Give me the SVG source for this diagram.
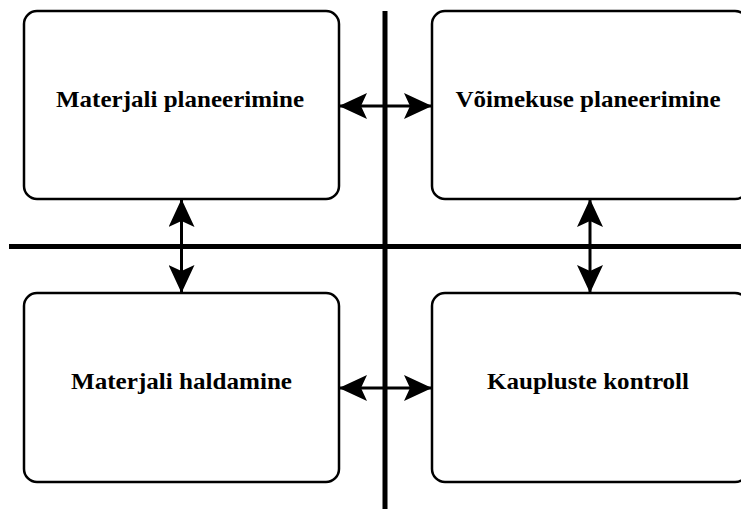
<svg xmlns="http://www.w3.org/2000/svg" width="741" height="509" viewBox="0 0 741 509">
<style>
.box{fill:#fff;stroke:#000;stroke-width:2.5}
.lbl{font-family:"Liberation Serif","Times New Roman",serif;font-weight:bold;font-size:24px;fill:#000;text-anchor:middle}
.axis{stroke:#000;stroke-width:5;fill:none}
.con{stroke:#000;stroke-width:3;fill:none}
</style>
<defs>
<marker id="ah" viewBox="0 0 28 26" refX="27" refY="13" markerWidth="28" markerHeight="26" markerUnits="userSpaceOnUse" orient="auto-start-reverse">
<path d="M0,0 L28,13 L0,26 L6,13 Z" fill="#000"/>
</marker>
</defs>
<g id="axes">
<line class="axis" x1="385" y1="11" x2="385" y2="509"/>
<line class="axis" x1="9" y1="246.5" x2="741" y2="246.5"/>
</g>
<g id="connectors">
<line class="con" x1="340" y1="106" x2="431" y2="106" marker-start="url(#ah)" marker-end="url(#ah)"/>
<line class="con" x1="340" y1="388" x2="431" y2="388" marker-start="url(#ah)" marker-end="url(#ah)"/>
<line class="con" x1="181.5" y1="200" x2="181.5" y2="292" marker-start="url(#ah)" marker-end="url(#ah)"/>
<line class="con" x1="590" y1="200" x2="590" y2="292" marker-start="url(#ah)" marker-end="url(#ah)"/>
</g>
<g id="n1">
<rect class="box" x="24" y="11" width="315" height="188" rx="13"/>
<text class="lbl" x="180" y="107" textLength="248" lengthAdjust="spacingAndGlyphs">Materjali planeerimine</text>
</g>
<g id="n2">
<rect class="box" x="432" y="11" width="316" height="188" rx="13"/>
<text class="lbl" x="588" y="107" textLength="265" lengthAdjust="spacingAndGlyphs">Võimekuse planeerimine</text>
</g>
<g id="n3">
<rect class="box" x="24" y="293" width="315" height="189" rx="13"/>
<text class="lbl" x="181.5" y="388.5" textLength="221" lengthAdjust="spacingAndGlyphs">Materjali haldamine</text>
</g>
<g id="n4">
<rect class="box" x="432" y="293" width="316" height="189" rx="13"/>
<text class="lbl" x="588" y="388.5" textLength="202" lengthAdjust="spacingAndGlyphs">Kaupluste kontroll</text>
</g>
</svg>
